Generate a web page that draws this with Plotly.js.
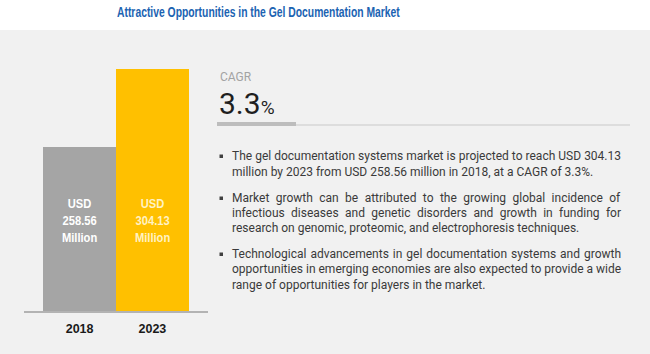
<!DOCTYPE html>
<html>
<head>
<meta charset="utf-8">
<script src="https://cdn.plot.ly/plotly-3.0.1.min.js"></script>
<style>
html,body{margin:0;padding:0;background:#fff;}
#chart{width:650px;height:354px;}
</style>
</head>
<body>
<div id="chart"></div>
<script>
// ---- data ----
var years = ['2018', '2023'];
var values = [258.56, 304.13];
var barColors = ['#a5a5a5', '#ffc000'];
var barLabelColors = ['#ffffff', '#fff2c4'];
var cagrValue = '3.3';
var chartTitle = 'Attractive Opportunities in the Gel Documentation Market';
var bulletLines = [
  ['The gel documentation systems market is projected to reach USD 304.13',
   'million by 2023 from USD 258.56 million in 2018, at a CAGR of 3.3%.'],
  ['Market growth can be attributed to the growing global incidence of',
   'infectious diseases and genetic disorders and growth in funding for',
   'research on genomic, proteomic, and electrophoresis techniques.'],
  ['Technological advancements in gel documentation systems and growth',
   'opportunities in emerging economies are also expected to provide a wide',
   'range of opportunities for players in the market.']
];

// ---- layout helpers (pixel -> paper) ----
var W = 650, H = 354;
var mL = 24, mR = 442, mT = 40, mB = 43;
var pw = W - mL - mR, ph = H - mT - mB;
function px(x){ return (x - mL) / pw; }
function py(y){ return (H - mB - y) / ph; }

var bodyFont = 'Roboto, "Liberation Sans", sans-serif';
var boldFont = '"Liberation Sans", Arial, sans-serif';

var annotations = [];
var shapes = [];
var squeezeList = []; // [annotation index, horizontal factor]

// white header strip
shapes.push({type:'rect', xref:'paper', yref:'paper', x0:px(-10), x1:px(700), y0:py(30), y1:py(-10),
  fillcolor:'#ffffff', line:{width:0}, layer:'below'});

// title
annotations.push({xref:'paper', yref:'paper', x:px(258), y:py(12), xanchor:'center', yanchor:'middle',
  text:'<b>' + chartTitle + '</b>', showarrow:false,
  font:{family:boldFont, size:14, color:'#1b63b2'}});
squeezeList.push([annotations.length - 1, 0.74]);

// bar labels
for (var i = 0; i < years.length; i++) {
  annotations.push({xref:'x', yref:'paper', x:i, y:py(220), xanchor:'center', yanchor:'middle',
    text:'<b>USD<br>' + values[i].toFixed(2) + '<br>Million</b>', showarrow:false,
    font:{family:boldFont, size:13, color:barLabelColors[i]}});
  squeezeList.push([annotations.length - 1, 0.86]);
}

// CAGR block
annotations.push({xref:'paper', yref:'paper', x:px(218), y:py(77), xanchor:'left', yanchor:'middle',
  height:14, text:'CAGR', showarrow:false, font:{family:bodyFont, size:12, color:'#a3a3a3'}});
annotations.push({xref:'paper', yref:'paper', x:px(217), y:py(103), xanchor:'left', yanchor:'middle',
  height:30, text:cagrValue + '<span style="font-size:19px">%</span>', showarrow:false,
  font:{family:bodyFont, size:30, color:'#1f1f1f'}});

// divider
shapes.push({type:'line', xref:'paper', yref:'paper', x0:px(296), x1:px(630), y0:py(125), y1:py(125),
  line:{color:'#d6d6d6', width:1.5}});
shapes.push({type:'line', xref:'paper', yref:'paper', x0:px(217), x1:px(296), y0:py(124), y1:py(124),
  line:{color:'#bdbdbd', width:4}});

// bullets
var paraTops = [156, 198, 254];
var lineGaps = [15.6, 15, 15.4];
var justifyIdx = [];
for (var p = 0; p < bulletLines.length; p++) {
  shapes.push({type:'rect', xref:'paper', yref:'paper', x0:px(219.5), x1:px(223),
    y0:py(paraTops[p] - 1.5), y1:py(paraTops[p] + 2), fillcolor:'#404040', line:{width:0}});
  for (var l = 0; l < bulletLines[p].length; l++) {
    var last = (l === bulletLines[p].length - 1);
    annotations.push({xref:'paper', yref:'paper', x:px(230), y:py(paraTops[p] + l * lineGaps[p]),
      xanchor:'left', yanchor:'middle', text:bulletLines[p][l], showarrow:false,
      font:{family:bodyFont, size:12, color:'#3a3a3a'}});
    if (!last) justifyIdx.push(annotations.length - 1);
  }
}

var trace = {
  type:'bar', x:years, y:values,
  marker:{color:barColors, line:{width:0}},
  hoverinfo:'none'
};

var layout = {
  width:W, height:H,
  margin:{l:mL, r:mR, t:mT, b:mB, pad:0},
  paper_bgcolor:'#f1f1f1', plot_bgcolor:'rgba(0,0,0,0)',
  showlegend:false, bargap:0,
  xaxis:{type:'category', range:[-0.764, 1.764], showgrid:false, zeroline:false,
    showline:true, linecolor:'#b3b3b3', linewidth:1.5, ticks:'', ticklabelstandoff:5,
    tickfont:{family:boldFont, size:12.5, color:'#1a1a1a', weight:700},
    fixedrange:true},
  yaxis:{range:[162.75, 321.07], visible:false, showgrid:false, zeroline:false, fixedrange:true},
  annotations:annotations,
  shapes:shapes
};

function annText(idx){
  var g = document.querySelector('#chart .annotation[data-index="' + idx + '"]');
  return g ? g.querySelector('text') : null;
}
function prependTransform(t, tr){
  var old = t.getAttribute('transform') || '';
  t.setAttribute('transform', tr + ' ' + old);
}

Plotly.newPlot('chart', [trace], layout, {displayModeBar:false, staticPlot:true}).then(function(){
  // condensed look for title and bar labels
  squeezeList.forEach(function(s){
    var t = annText(s[0]);
    if (!t) return;
    var b = t.getBBox();
    var cx = b.x + b.width / 2;
    prependTransform(t, 'translate(' + cx + ',0) scale(' + s[1] + ',1) translate(' + (-cx) + ',0)');
  });
  // justify full lines of bullet paragraphs
  var target = 619 - 230;
  justifyIdx.forEach(function(idx){
    var t = annText(idx);
    if (!t) return;
    var b0 = t.getBBox();
    var spaces = (t.textContent.match(/ /g) || []).length;
    if (spaces > 0 && b0.width < target) {
      t.setAttribute('word-spacing', ((target - b0.width) / spaces).toFixed(2));
      var b1 = t.getBBox();
      prependTransform(t, 'translate(' + (b0.x - b1.x) + ',0)');
    }
  });
});
</script>
</body>
</html>
